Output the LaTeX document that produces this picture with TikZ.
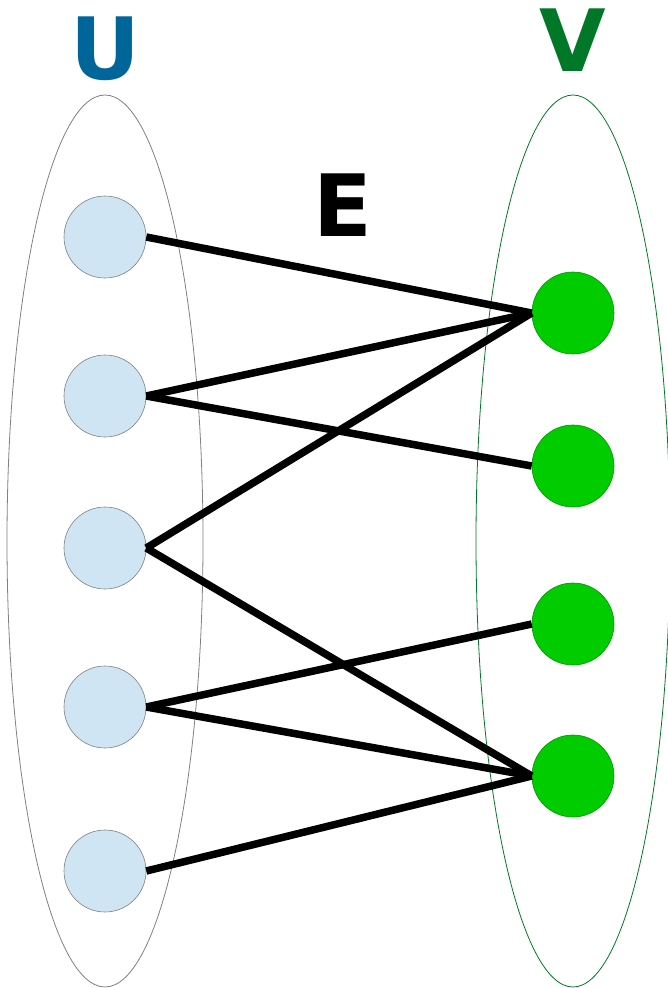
\documentclass[tikz,border=0pt]{standalone}
\usepackage{fontspec}
\setmainfont{DejaVu Sans}
\definecolor{ublue}{RGB}{0,102,153}
\definecolor{vgreen}{RGB}{0,120,40}
\definecolor{ufill}{RGB}{207,229,243}
\definecolor{vfill}{RGB}{0,204,0}
\definecolor{vline}{RGB}{0,150,0}
\begin{document}
\begin{tikzpicture}[x=1pt,y=-1pt,
  unode/.style={circle,draw=gray,fill=ufill,line width=0.6pt,minimum size=82pt,inner sep=0pt},
  vnode/.style={circle,draw=vline,fill=vfill,line width=0.6pt,minimum size=82pt,inner sep=0pt},
  edge/.style={line width=7.5pt,black},
  biglabel/.style={font=\fontsize{86}{86}\selectfont\bfseries,inner sep=0pt,anchor=base}]
\useasboundingbox (0,0) rectangle (668,988);
\begin{scope}
\clip (0,0) rectangle (668,988);
\draw[gray,line width=0.8pt] (105,541) ellipse [x radius=98,y radius=446];
\draw[vgreen,line width=0.8pt] (573,541) ellipse [x radius=97,y radius=446];
\end{scope}
\node[biglabel,text=ublue] (lu) at (105,79) {U};
\node[biglabel,text=vgreen] (lv) at (573,71) {V};
\node[biglabel,text=black] (le) at (343,236) {E};
\node[unode] (u1) at (105,237) {};
\node[unode] (u2) at (105,396) {};
\node[unode] (u3) at (105,548) {};
\node[unode] (u4) at (105,707) {};
\node[unode] (u5) at (105,871) {};
\node[vnode] (v1) at (573,313) {};
\node[vnode] (v2) at (573,466) {};
\node[vnode] (v3) at (573,624) {};
\node[vnode] (v4) at (573,776) {};
\draw[edge] (u1.east) -- (v1.west);
\draw[edge] (u2.east) -- (v1.west);
\draw[edge] (u2.east) -- (v2.west);
\draw[edge] (u3.east) -- (v1.west);
\draw[edge] (u3.east) -- (v4.west);
\draw[edge] (u4.east) -- (v3.west);
\draw[edge] (u4.east) -- (v4.west);
\draw[edge] (u5.east) -- (v4.west);
\end{tikzpicture}
\end{document}
